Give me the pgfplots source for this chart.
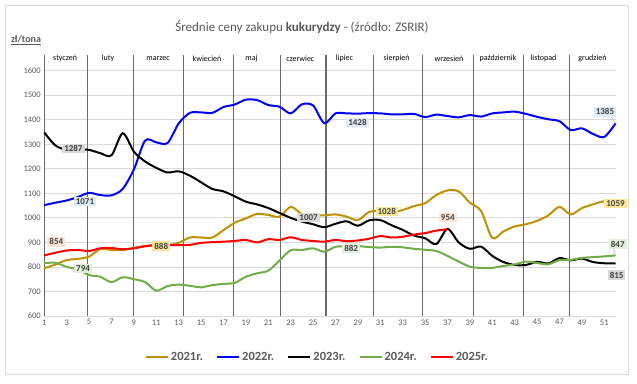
\documentclass[border=0pt]{standalone}
\usepackage{fontspec}
\setmainfont{Carlito}
\usepackage{pgfplots}
\usepackage{pgfplotstable}
\pgfplotsset{compat=1.18}
\definecolor{cgold}{HTML}{BF9000}
\definecolor{cblue}{HTML}{0000FF}
\definecolor{cgreen}{HTML}{70AD47}
\definecolor{cred}{HTML}{FF0000}
\definecolor{txtgray}{HTML}{595959}
\definecolor{lblgray}{HTML}{404040}
\definecolor{bggray}{HTML}{D9D9D9}
\definecolor{bgblue}{HTML}{DEEBF7}
\definecolor{bgred}{HTML}{FBE5D6}
\definecolor{bggreen}{HTML}{E2F0D9}
\definecolor{bggold}{HTML}{FFE699}
\definecolor{gridgray}{HTML}{D9D9D9}
\definecolor{monthline}{HTML}{6A6A6A}
\tikzset{
 lbl/.style={font=\bfseries\fontsize{9}{10}\selectfont, text=lblgray, inner xsep=2pt, inner ysep=1.5pt},
 mon/.style={font=\fontsize{8}{9}\selectfont, text=black},
}

\pgfplotstableread{
w y21 y22 y23 y24
1 795 1052 1348 815
2 810 1062 1295 817
3 828 1071 1278 800
4 833 1085 1280 790
5 842 1102 1277 767
6 873 1093 1264 760
7 869 1092 1255 738
8 869 1118 1345 758
9 878 1198 1270 750
10 886 1315 1230 738
11 889 1308 1204 703
12 889 1305 1185 722
13 898 1385 1190 728
14 920 1428 1172 723
15 920 1430 1145 717
16 920 1428 1118 726
17 950 1452 1108 731
18 980 1462 1088 735
19 998 1482 1066 760
20 1016 1480 1055 774
21 1012 1460 1040 785
22 1005 1453 1020 826
23 1045 1426 1000 868
24 1016 1463 985 869
25 1012 1458 974 876
26 1010 1386 962 862
27 1014 1426 976 882
28 1005 1426 986 883
29 991 1425 968 885
30 1024 1427 990 881
31 1028 1426 991 879
32 1024 1422 970 882
33 1032 1422 951 880
34 1048 1424 928 874
35 1060 1411 917 870
36 1093 1421 893 865
37 1112 1415 955 845
38 1108 1410 900 822
39 1062 1419 874 801
40 1028 1413 883 796
41 918 1426 845 796
42 945 1430 820 804
43 965 1433 808 810
44 974 1424 808 822
45 988 1412 821 816
46 1010 1402 814 811
47 1045 1394 836 828
48 1014 1358 827 829
49 1040 1365 834 837
50 1055 1342 820 840
51 1068 1330 815 843
52 1062 1385 815 847
}\dataA

\pgfplotstableread{
w y25
1 847
2 858
3 867
4 869
5 865
6 876
7 877
8 872
9 876
10 884
11 889
12 889
13 889
14 890
15 898
16 901
17 903
18 906
19 910
20 900
21 913
22 910
23 921
24 910
25 906
26 903
27 910
28 905
29 908
30 915
31 926
32 920
33 923
34 932
35 938
36 948
37 954
}\dataB

\begin{document}
\begin{tikzpicture}
\useasboundingbox (0pt,0pt) rectangle (637pt,383pt);
\draw[black!15] (5pt,9pt) rectangle (628pt,378pt);
\node[font=\fontsize{13}{15}\selectfont, text=txtgray] at (302pt,356pt) {Średnie ceny zakupu \textbf{kukurydzy} - (źródło: ZSRIR)};
\node[font=\bfseries\fontsize{10}{11}\selectfont, text=txtgray] at (26pt,343pt) {\underline{zł/tona}};
\begin{axis}[
 at={(44.3pt,67pt)}, anchor=south west,
 scale only axis, width=571.2pt, height=261pt,
 xmin=1, xmax=52, ymin=600, ymax=1664,
 xtick={1,3,...,51}, ytick={600,700,...,1600},
 ymajorgrids, major grid style={draw=gridgray, line width=0.8pt},
 axis line style={draw=none}, tick style={draw=none},
 tick label style={font=\fontsize{8.5}{10}\selectfont, text=txtgray},
 /pgf/number format/assume math mode=true,
 /pgf/number format/1000 sep={},
 extra x ticks={1,4.88,8.93,13.4,17.87,22.07,26.15,30.37,34.76,39.32,43.78,47.86},
 extra x tick labels={},
 extra x tick style={xmajorgrids=true, major grid style={draw=monthline, line width=1.2pt}},
 clip=false,
 legend style={at={(0.478,-0.156)}, anchor=center, legend columns=5, draw=none, fill=none,
   font=\bfseries\fontsize{12.5}{14}\selectfont, text=txtgray,
   /tikz/every even column/.append style={column sep=11pt}},
 legend image code/.code={\draw[#1, line width=2.2pt] (0pt,0pt) -- (22pt,0pt);},
]
\addplot[cgold, line width=2pt, smooth, no markers] table[x=w,y=y21] {\dataA};
\addlegendentry{2021r.}
\addplot[cblue, line width=2pt, smooth, no markers] table[x=w,y=y22] {\dataA};
\addlegendentry{2022r.}
\addplot[black, line width=2pt, smooth, no markers] table[x=w,y=y23] {\dataA};
\addlegendentry{2023r.}
\addplot[cgreen, line width=2pt, smooth, no markers] table[x=w,y=y24] {\dataA};
\addlegendentry{2024r.}
\addplot[cred, line width=2pt, smooth, no markers] table[x=w,y=y25] {\dataB};
\addlegendentry{2025r.}

\node[mon] at (axis cs:2.86,1650) {styczeń};
\node[mon] at (axis cs:6.69,1650) {luty};
\node[mon] at (axis cs:11.16,1650) {marzec};
\node[mon] at (axis cs:15.53,1650) {kwiecień};
\node[mon] at (axis cs:19.5,1650) {maj};
\node[mon] at (axis cs:23.86,1650) {czerwiec};
\node[mon] at (axis cs:27.8,1650) {lipiec};
\node[mon] at (axis cs:32.45,1650) {sierpień};
\node[mon] at (axis cs:37.13,1650) {wrzesień};
\node[mon] at (axis cs:41.5,1650) {październik};
\node[mon] at (axis cs:45.57,1650) {listopad};
\node[mon] at (axis cs:49.95,1650) {grudzień};

\draw[black!40] (axis cs:51.6,1412) -- (axis cs:52,1388);
\draw[black!40] (axis cs:51.8,874) -- (axis cs:52,850);

\node[lbl, fill=bggray] at (axis cs:3.6,1284) {1287};
\node[lbl, fill=bgblue] at (axis cs:4.63,1066) {1071};
\node[lbl, fill=bgred] at (axis cs:2.07,902) {854};
\node[lbl, fill=bggreen] at (axis cs:4.46,792) {794};
\node[lbl, fill=bggold] at (axis cs:11.44,885) {888};
\node[lbl, fill=bggray] at (axis cs:24.6,1001) {1007};
\node[lbl, fill=bgblue] at (axis cs:28.96,1390) {1428};
\node[lbl, fill=bggold] at (axis cs:31.57,1025) {1028};
\node[lbl, fill=bggreen] at (axis cs:28.4,877) {882};
\node[lbl, fill=bgred] at (axis cs:37.03,1000) {954};
\node[lbl, fill=bgblue] at (axis cs:51.06,1432) {1385};
\node[lbl, fill=bggold] at (axis cs:52,1059) {1059};
\node[lbl, fill=bggreen] at (axis cs:52.2,893) {847};
\node[lbl, fill=bggray] at (axis cs:52.1,767) {815};
\end{axis}
\end{tikzpicture}
\end{document}
